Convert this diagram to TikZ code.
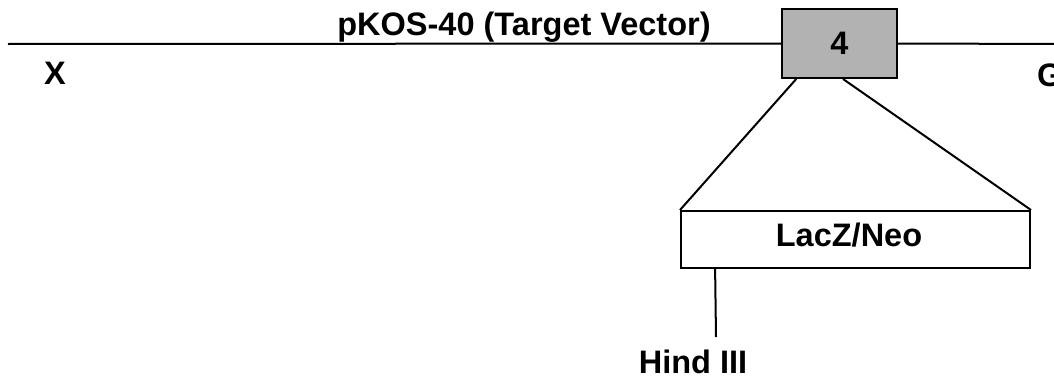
\documentclass[tikz,border=0pt]{standalone}
\usepackage{fontspec}
\setmainfont{Liberation Sans}
\usetikzlibrary{calc}
\begin{document}
\begin{tikzpicture}[x=1pt,y=-1pt,
  lbl/.style={font=\bfseries\fontsize{32.5}{36}\selectfont, inner sep=0pt},
  ln/.style={line width=2pt},
  boxst/.style={draw, line width=2pt, inner sep=0pt}]
\useasboundingbox (0,0) rectangle (1054,380);
\coordinate (L) at (8,44);
\coordinate (R) at (1060,44);
\node[boxst, fill=black!30, minimum width=115pt, minimum height=69pt] (ex) at (839.5,43.5) {};
\node[lbl] (four) at (ex.center) {4};
\node[boxst, fill=white, minimum width=349pt, minimum height=57pt] (lz) at (855.5,239.5) {};
\node[lbl] (lztxt) at (849,235) {LacZ/Neo};
\node[lbl, anchor=base] (title) at (524,35.5) {pKOS-40 (Target Vector)};
\node[lbl] (X) at (55,73) {X};
\node[lbl, anchor=west] (G) at (1037,75) {G};
\coordinate (hd) at (716,337);
\node[lbl] (hind) at (693,362) {Hind III};
\draw[ln] (L) -- (ex.west);
\draw[ln] (ex.east) -- (R);
\draw[ln] ($(ex.south west)!0.13!(ex.south east)$) -- (lz.north west);
\draw[ln] ($(ex.south west)!0.53!(ex.south east)$) -- (lz.north east);
\draw[ln] ($(lz.south west)!0.1!(lz.south east)$) -- (hd);
\end{tikzpicture}
\end{document}
